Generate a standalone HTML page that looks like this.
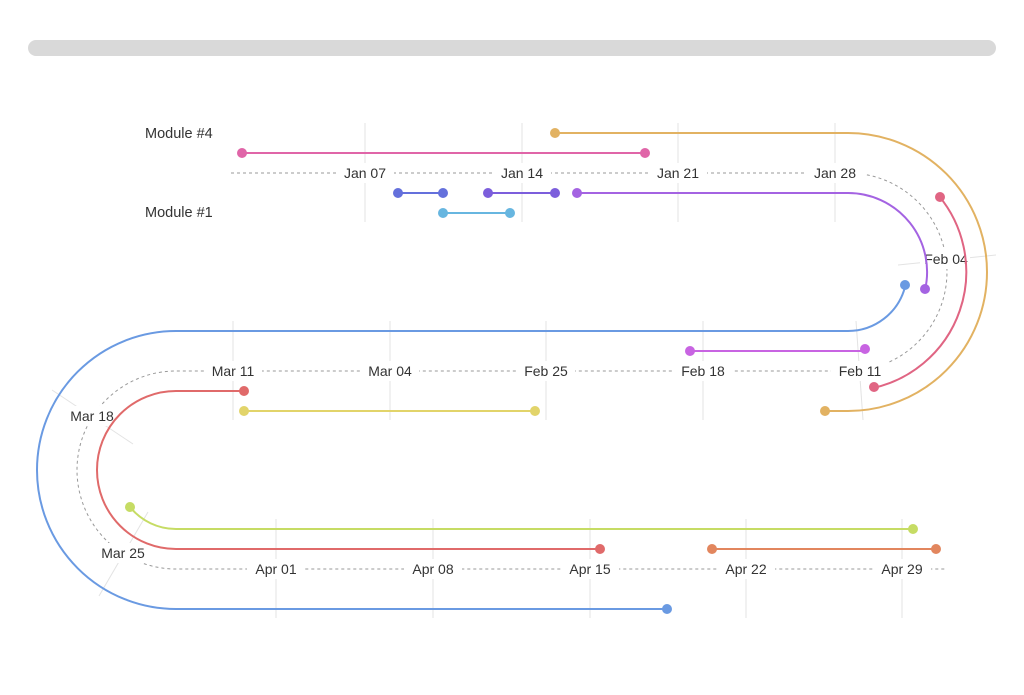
<!DOCTYPE html>
<html><head><meta charset="utf-8"><style>
html,body{margin:0;padding:0;background:#fff;}
svg text{font-family:"Liberation Sans",sans-serif;font-size:14px;fill:#333;}
</style></head><body>
<svg width="1024" height="690" viewBox="0 0 1024 690" xmlns="http://www.w3.org/2000/svg">
<rect x="28" y="40" width="968" height="16" rx="8" fill="#d9d9d9"/>
<g stroke="#e3e3e3" stroke-width="1">
<line x1="365" y1="123" x2="365" y2="222"/><line x1="522" y1="123" x2="522" y2="222"/>
<line x1="678" y1="123" x2="678" y2="222"/><line x1="835" y1="123" x2="835" y2="222"/>
<line x1="233" y1="321" x2="233" y2="420"/><line x1="390" y1="321" x2="390" y2="420"/>
<line x1="546" y1="321" x2="546" y2="420"/><line x1="703" y1="321" x2="703" y2="420"/>
<line x1="856" y1="321" x2="863" y2="420"/>
<line x1="276" y1="519" x2="276" y2="618"/><line x1="433" y1="519" x2="433" y2="618"/>
<line x1="590" y1="519" x2="590" y2="618"/><line x1="746" y1="519" x2="746" y2="618"/>
<line x1="902" y1="519" x2="902" y2="618"/>
<line x1="898" y1="265" x2="996" y2="255"/>
<line x1="52" y1="390" x2="133" y2="444"/>
<line x1="148" y1="512" x2="99" y2="596"/>
</g>
<path d="M231 173 H848 A99 99 0 0 1 848 371 H176 A99 99 0 0 0 176 569 H945" fill="none" stroke="#999" stroke-width="1" stroke-dasharray="3,3"/>
<g fill="#fff">
<rect x="336" y="163" width="58" height="20"/><rect x="493" y="163" width="58" height="20"/>
<rect x="649" y="163" width="58" height="20"/><rect x="806" y="163" width="58" height="20"/>
<rect x="204" y="361" width="58" height="20"/><rect x="361" y="361" width="58" height="20"/>
<rect x="517" y="361" width="58" height="20"/><rect x="674" y="361" width="58" height="20"/>
<rect x="831" y="361" width="58" height="20"/>
<rect x="247" y="559" width="58" height="20"/><rect x="404" y="559" width="58" height="20"/>
<rect x="561" y="559" width="58" height="20"/><rect x="717" y="559" width="58" height="20"/>
<rect x="873" y="559" width="58" height="20"/>
<rect x="920" y="249" width="50" height="20"/>
<rect x="66" y="406" width="54" height="20"/><rect x="96" y="543" width="54" height="20"/>
</g>
<g text-anchor="middle" style="font-size:14.5px">
<text x="365" y="178">Jan 07</text><text x="522" y="178">Jan 14</text>
<text x="678" y="178">Jan 21</text><text x="835" y="178">Jan 28</text>
<text x="946" y="264">Feb 04</text>
<text x="233" y="376">Mar 11</text><text x="390" y="376">Mar 04</text>
<text x="546" y="376">Feb 25</text><text x="703" y="376">Feb 18</text>
<text x="860" y="376">Feb 11</text>
<text x="92" y="421">Mar 18</text><text x="123" y="558">Mar 25</text>
<text x="276" y="574">Apr 01</text><text x="433" y="574">Apr 08</text>
<text x="590" y="574">Apr 15</text><text x="746" y="574">Apr 22</text>
<text x="902" y="574">Apr 29</text>
</g>
<text x="145" y="138" style="font-size:14.5px">Module #4</text>
<text x="145" y="217" style="font-size:14.5px">Module #1</text>
<g fill="none" stroke-width="2">
<path d="M555 133 H848 A139 139 0 0 1 848 411 H825" stroke="#e2b262"/>
<path d="M242 153 H645" stroke="#e065a8"/>
<path d="M398 193 H443" stroke="#6470dc"/>
<path d="M488 193 H555" stroke="#7c5edc"/>
<path d="M577 193 H848 A79 79 0 0 1 925 290" stroke="#a463e2"/>
<path d="M443 213 H510" stroke="#67b6e0"/>
<path d="M939 196 A119 119 0 0 1 873 388" stroke="#e06583"/>
<path d="M905 287 A59 59 0 0 1 848 331 H176 A139 139 0 0 0 176 609 H667" stroke="#6a9ae2"/>
<path d="M690 351 H865" stroke="#c864e2"/>
<path d="M244 391 H176 A79 79 0 0 0 176 549 H600" stroke="#e06a6a"/>
<path d="M244 411 H535" stroke="#e2d46a"/>
<path d="M130 507 A59 59 0 0 0 176 529 H913" stroke="#c6dc64"/>
<path d="M712 549 H936" stroke="#e2865e"/>
</g>
<g>
<circle cx="555" cy="133" r="5" fill="#e2b262"/><circle cx="825" cy="411" r="5" fill="#e2b262"/>
<circle cx="242" cy="153" r="5" fill="#e065a8"/><circle cx="645" cy="153" r="5" fill="#e065a8"/>
<circle cx="398" cy="193" r="5" fill="#6470dc"/><circle cx="443" cy="193" r="5" fill="#6470dc"/>
<circle cx="488" cy="193" r="5" fill="#7c5edc"/><circle cx="555" cy="193" r="5" fill="#7c5edc"/>
<circle cx="577" cy="193" r="5" fill="#a463e2"/><circle cx="925" cy="289" r="5" fill="#a463e2"/>
<circle cx="443" cy="213" r="5" fill="#67b6e0"/><circle cx="510" cy="213" r="5" fill="#67b6e0"/>
<circle cx="940" cy="197" r="5" fill="#e06583"/><circle cx="874" cy="387" r="5" fill="#e06583"/>
<circle cx="905" cy="285" r="5" fill="#6a9ae2"/><circle cx="667" cy="609" r="5" fill="#6a9ae2"/>
<circle cx="690" cy="351" r="5" fill="#c864e2"/><circle cx="865" cy="349" r="5" fill="#c864e2"/>
<circle cx="244" cy="391" r="5" fill="#e06a6a"/><circle cx="600" cy="549" r="5" fill="#e06a6a"/>
<circle cx="244" cy="411" r="5" fill="#e2d46a"/><circle cx="535" cy="411" r="5" fill="#e2d46a"/>
<circle cx="130" cy="507" r="5" fill="#c6dc64"/><circle cx="913" cy="529" r="5" fill="#c6dc64"/>
<circle cx="712" cy="549" r="5" fill="#e2865e"/><circle cx="936" cy="549" r="5" fill="#e2865e"/>
</g>
</svg>
</body></html>
